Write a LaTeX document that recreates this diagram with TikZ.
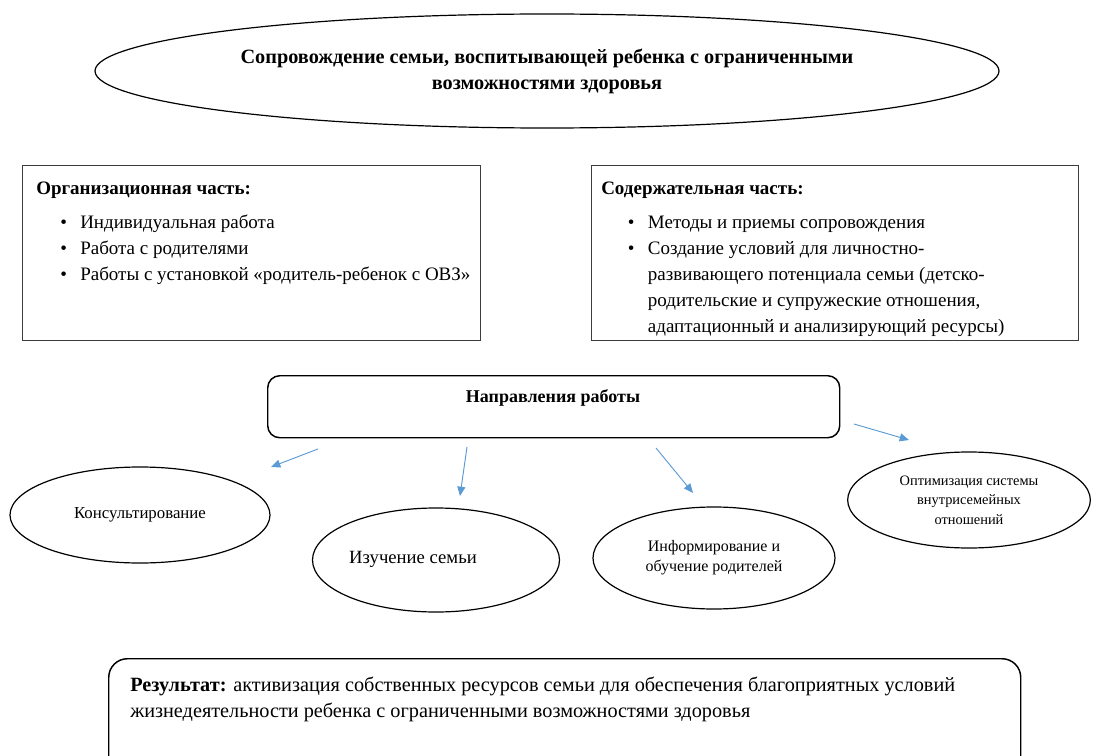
\documentclass[tikz,border=0pt]{standalone}
\usepackage{fontspec}
\setmainfont{Liberation Serif}
\usetikzlibrary{arrows.meta,shapes.geometric}
\definecolor{arrblue}{RGB}{91,155,213}
\definecolor{boxgray}{RGB}{60,60,60}
\newcommand{\bodyfont}{\fontsize{14.25pt}{19.5pt}\selectfont}
\newcommand{\itm}[1]{\hspace*{18pt}\makebox[15pt][l]{\textbullet}#1}
\newcommand{\itmr}[1]{\hspace*{20pt}\makebox[15pt][l]{\textbullet}#1}
\begin{document}
\begin{tikzpicture}[x=0.75pt,y=-0.75pt,
  oval/.style={ellipse,draw,line width=0.9pt,inner sep=0pt,align=center},
  sqbox/.style={draw=boxgray,line width=1.1pt,inner sep=0pt},
  rbox/.style={draw,line width=1.1pt,rounded corners=9pt,inner sep=0pt},
  txt/.style={inner sep=0pt,align=left,anchor=north west},
  arr/.style={draw=arrblue,line width=0.7pt,-{Triangle[length=7pt,width=6pt,fill=arrblue]}}]
\useasboundingbox (0,0) rectangle (1100,756);
\clip (0,0) rectangle (1100,756);
% title ellipse
\node[oval,minimum width=678pt,minimum height=85.5pt,font=\bfseries\fontsize{15.2pt}{19.5pt}\selectfont] (title) at (547,71)
  {Сопровождение семьи, воспитывающей ребенка с ограниченными\\возможностями здоровья};
% organisational part
\node[sqbox,anchor=north west,minimum width=343.5pt,minimum height=131.25pt] (orgbox) at (22,165) {};
\node[txt,font=\bodyfont] (orgtext) at (36,182)
  {\textbf{Организационная часть:}\\[6pt]
   \itm{Индивидуальная работа}\\
   \itm{Работа с родителями}\\
   \itm{Работы с установкой «родитель-ребенок с ОВЗ»}};
% content part
\node[sqbox,anchor=north west,minimum width=365.25pt,minimum height=131.25pt] (conbox) at (591,165) {};
\node[txt,font=\bodyfont] (context) at (601,182)
  {\textbf{Содержательная часть:}\\[6pt]
   \itmr{Методы и приемы сопровождения}\\
   \itmr{Создание условий для личностно-}\\
   \hspace*{35pt}развивающего потенциала семьи (детско-\\
   \hspace*{35pt}родительские и супружеские отношения,\\
   \hspace*{35pt}адаптационный и анализирующий ресурсы)};
% directions box
\node[rbox,anchor=north west,minimum width=429pt,minimum height=46.5pt] (dirbox) at (267,375) {};
\node[inner sep=0pt,font=\bfseries\fontsize{13.5pt}{16pt}\selectfont] (dirtext) at (553,398) {Направления работы};
% ellipses
\node[oval,minimum width=195pt,minimum height=72pt,font=\fontsize{12.6pt}{15pt}\selectfont] (kons) at (140,515) {Консультирование};
\node[oval,minimum width=185.25pt,minimum height=78pt] (izuch) at (436,560) {};
\node[inner sep=0pt,font=\fontsize{14pt}{17pt}\selectfont] (izuchtext) at (413,559) {Изучение семьи};
\node[oval,minimum width=181.5pt,minimum height=76.5pt,font=\fontsize{12pt}{15pt}\selectfont] (inform) at (714,558) {Информирование и\\обучение родителей};
\node[oval,minimum width=182pt,minimum height=72pt,font=\fontsize{10.8pt}{14.6pt}\selectfont] (optim) at (969,500) {Оптимизация системы\\внутрисемейных\\отношений};
% arrows
\coordinate (a1s) at (318,449); \coordinate (a1e) at (271,467);
\coordinate (a2s) at (467,447); \coordinate (a2e) at (460,496);
\coordinate (a3s) at (656,448); \coordinate (a3e) at (693,493);
\coordinate (a4s) at (854,424); \coordinate (a4e) at (909,440);
\draw[arr] (a1s) -- (a1e);
\draw[arr] (a2s) -- (a2e);
\draw[arr] (a3s) -- (a3e);
\draw[arr] (a4s) -- (a4e);
% result box
\node[rbox,rounded corners=14pt,anchor=north west,minimum width=684pt,minimum height=90pt] (resbox) at (108,658) {};
\node[txt,font=\fontsize{15.2pt}{19.5pt}\selectfont] (restext) at (130,677)
  {\textbf{Результат:} активизация собственных ресурсов семьи для обеспечения благоприятных условий\\
   жизнедеятельности ребенка с ограниченными возможностями здоровья};
\end{tikzpicture}
\end{document}
